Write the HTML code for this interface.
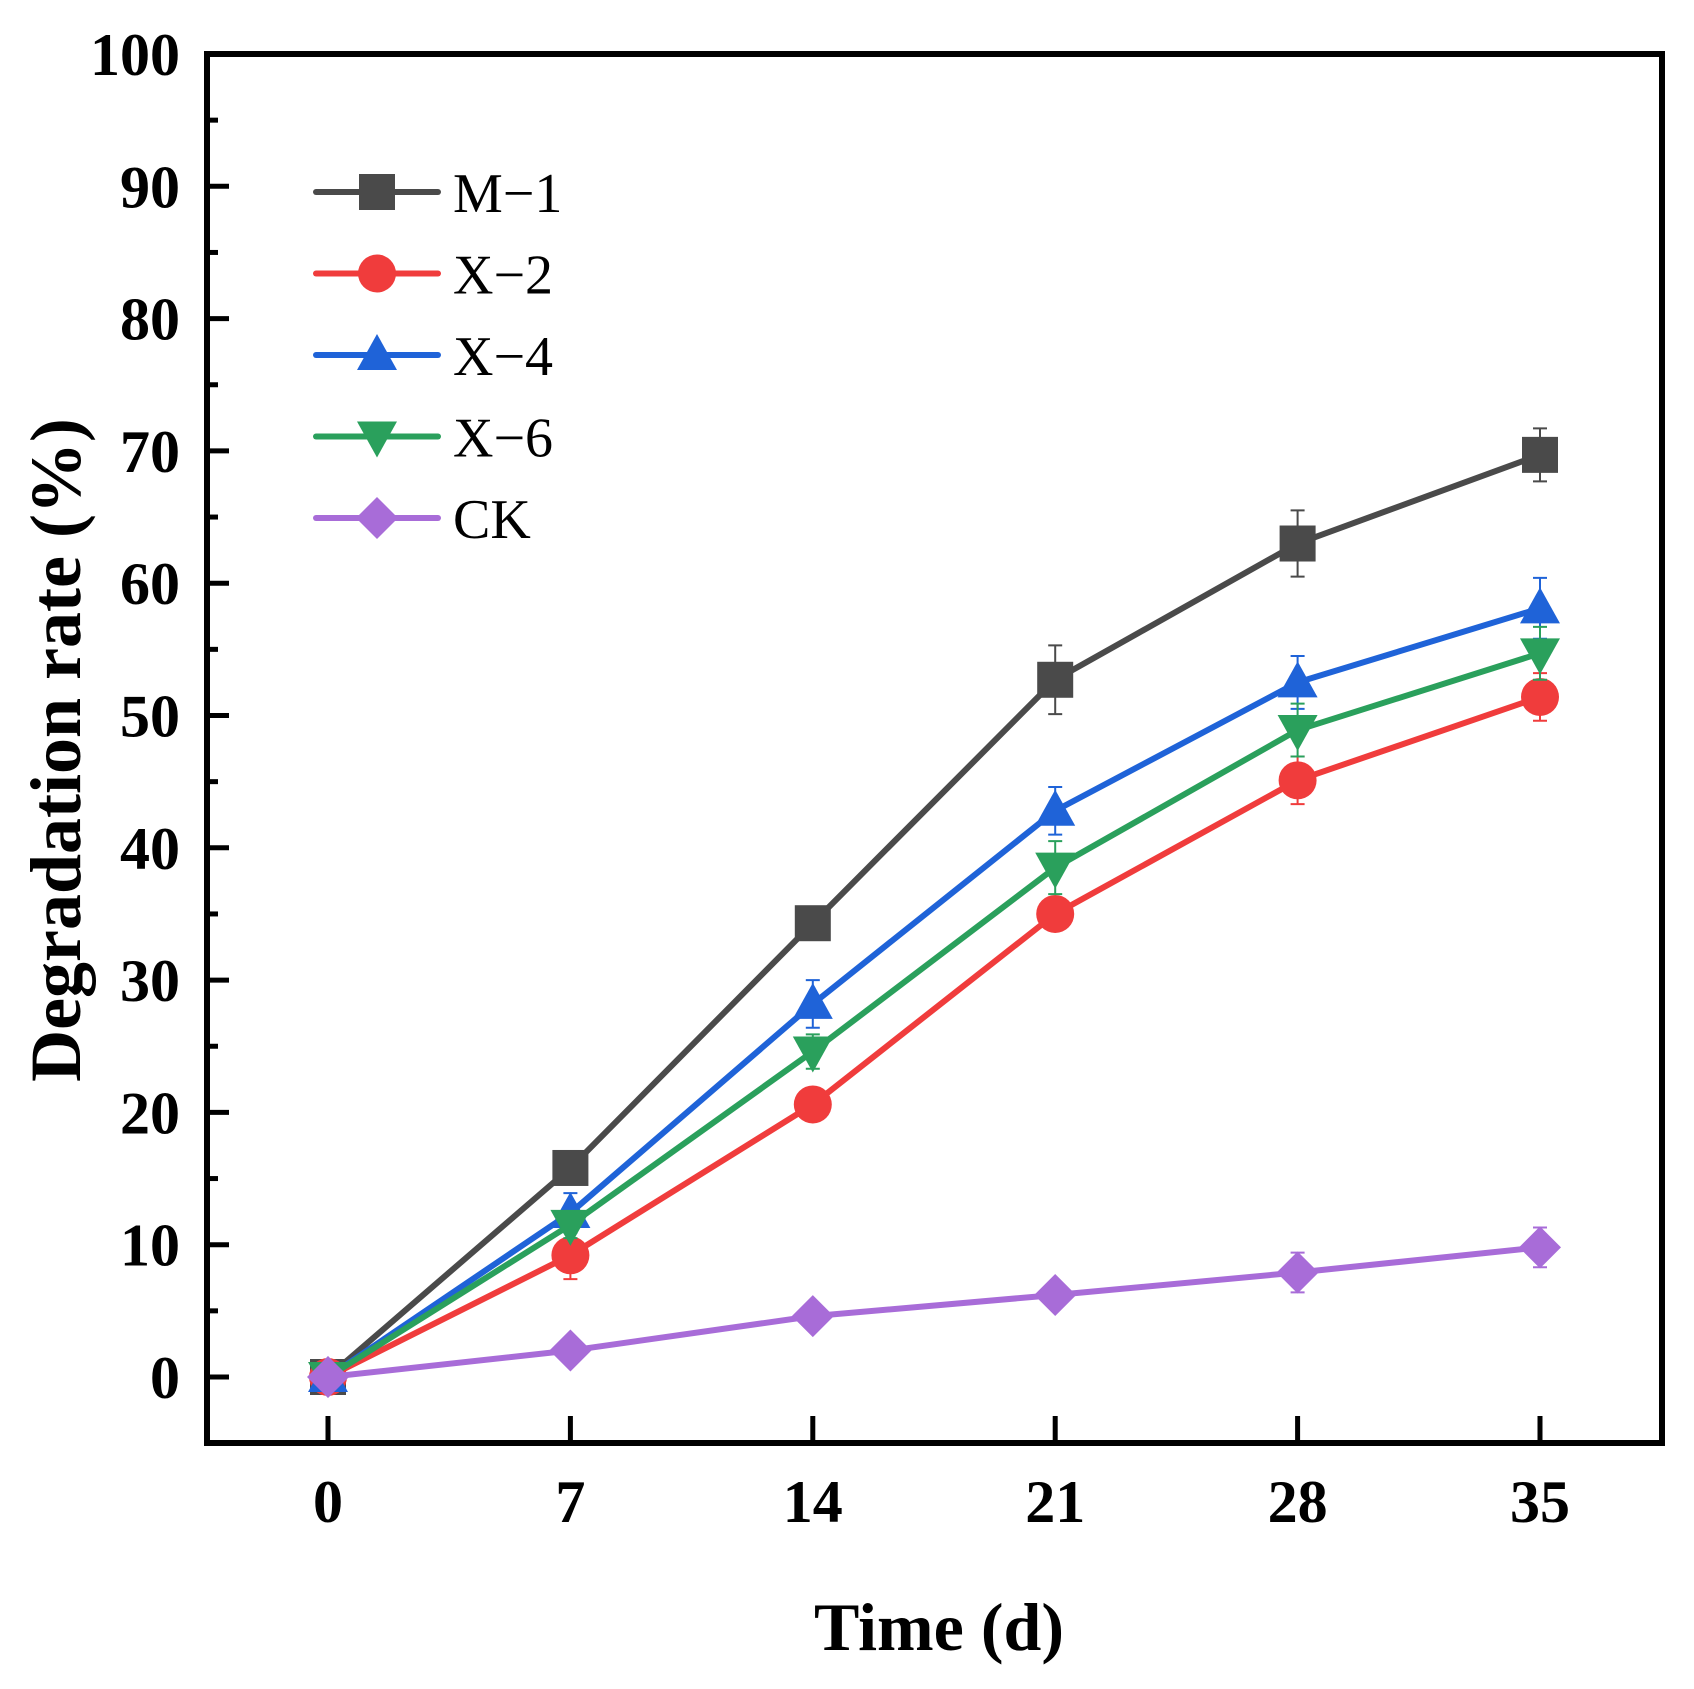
<!DOCTYPE html>
<html><head><meta charset="utf-8"><style>
html,body{margin:0;padding:0;background:#fff;}
svg{display:block;}
</style></head><body>
<svg width="1694" height="1689" viewBox="0 0 1694 1689" xmlns="http://www.w3.org/2000/svg">
<defs>
<g id="sq"><rect x="-18" y="-18" width="36" height="36"/></g>
<g id="ci"><circle r="19"/></g>
<g id="tu"><polygon points="0,-21 20,15 -20,15"/></g>
<g id="td"><polygon points="0,21 20,-15 -20,-15"/></g>
<g id="di"><polygon points="0,-21 21,0 0,21 -21,0"/></g>
</defs>
<g id="plot"></g>
<rect x="207" y="54" width="1455" height="1389" fill="none" stroke="#000" stroke-width="6"/>
<g id="ticks" stroke="#000" stroke-width="5"></g>
<g font-family="Liberation Serif, serif" font-weight="bold" font-size="60" fill="#000" id="labels"></g>
<text x="939" y="1650" text-anchor="middle" font-family="Liberation Serif, serif" font-weight="bold" font-size="68">Time (d)</text>
<text transform="translate(80,750) rotate(-90)" text-anchor="middle" font-family="Liberation Serif, serif" font-weight="bold" font-size="72">Degradation rate (%)</text>
<g id="legend" font-family="Liberation Serif, serif" font-size="56"></g>
<script>
var NS="http://www.w3.org/2000/svg";
function el(p,t,a,txt){var e=document.createElementNS(NS,t);for(var k in a)e.setAttribute(k,a[k]);if(txt!=null)e.textContent=txt;p.appendChild(e);return e;}
function X(d){return 328+d*242.4/7;}
function Y(v){return 1377-v*13.23;}
var ticks=document.getElementById('ticks'),labels=document.getElementById('labels');
for(var v=0;v<=100;v+=5){var y=Y(v);var major=v%10==0;el(ticks,'line',{x1:207,x2:207+(major?22:11),y1:y,y2:y});
 if(major)el(labels,'text',{x:180,y:y+21,'text-anchor':'end'},String(v));}
var days=[0,7,14,21,28,35];
days.forEach(function(d){var x=X(d);el(ticks,'line',{x1:x,x2:x,y1:1443,y2:1416});el(labels,'text',{x:x,y:1522,'text-anchor':'middle'},String(d));});
var S=[
{n:'M\u22121',c:'#4a4a4a',m:'sq',v:[0,15.8,34.3,52.7,63,69.7],e:[0.4,1.2,1,2.6,2.5,2]},
{n:'X\u22122',c:'#f03c3c',m:'ci',v:[0,9.2,20.6,35,45.1,51.4],e:[0.4,1.8,1.2,1.2,1.8,1.8]},
{n:'X\u22124',c:'#1f63d8',m:'tu',v:[0,12.4,28.2,42.8,52.5,58.1],e:[0.4,1.5,1.8,1.8,2,2.3]},
{n:'X\u22126',c:'#2aa05c',m:'td',v:[0,11.5,24.6,38.5,48.9,54.7],e:[0.4,1,1.3,2,2,2]},
{n:'CK',c:'#a86cd8',m:'di',v:[0,2,4.6,6.2,7.9,9.8],e:[0.4,0.4,0.8,0.8,1.5,1.5]}];
var plot=document.getElementById('plot'),leg=document.getElementById('legend');
S.forEach(function(s,i){
 var g=el(plot,'g',{});
 s.v.forEach(function(v,j){var x=X(days[j]);el(g,'path',{d:'M'+(x-7)+' '+Y(v+s.e[j])+'h14M'+x+' '+Y(v+s.e[j])+'V'+Y(v-s.e[j])+'M'+(x-7)+' '+Y(v-s.e[j])+'h14',stroke:s.c,'stroke-width':2,fill:'none'});});
 el(g,'polyline',{points:s.v.map(function(v,j){return X(days[j])+','+Y(v);}).join(' '),fill:'none',stroke:s.c,'stroke-width':6,'stroke-linejoin':'round'});
 s.v.forEach(function(v,j){el(g,'use',{href:'#'+s.m,x:X(days[j]),y:Y(v),fill:s.c});});
 var ly=192+i*81.5;
 el(leg,'line',{x1:316,x2:438,y1:ly,y2:ly,stroke:s.c,'stroke-width':6,'stroke-linecap':'round'});
 el(leg,'use',{href:'#'+s.m,x:377,y:ly,fill:s.c});
 el(leg,'text',{x:453,y:ly+20},s.n);
});
</script>
</svg>
</body></html>
